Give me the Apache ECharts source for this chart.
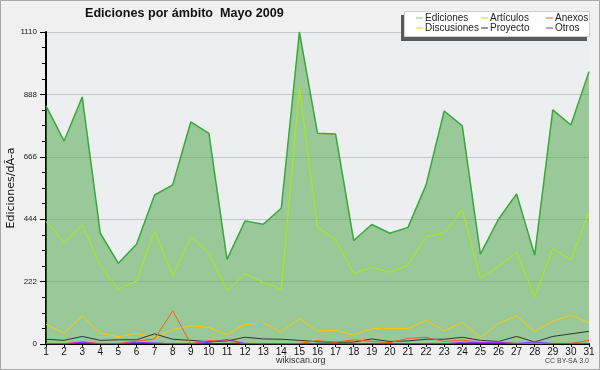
<!DOCTYPE html>
<html>
<head>
<meta charset="utf-8">
<script src="https://cdn.jsdelivr.net/npm/echarts@6/dist/echarts.min.js"></script>
<style>
html,body{margin:0;padding:0;background:#f0f0f0;}
#main{width:600px;height:370px;}
</style>
</head>
<body>
<div id="main"></div>
<script>
const days = ['1','2','3','4','5','6','7','8','9','10','11','12','13','14','15','16','17','18','19','20','21','22','23','24','25','26','27','28','29','30','31'];
const ediciones = [847,722,879,394,287,355,530,566,790,749,301,438,426,483,1110,750,747,368,425,394,415,566,829,776,320,444,534,316,833,779,969];
const articulos = [436,362,423,278,195,224,402,243,380,325,190,251,219,195,910,415,370,251,273,255,282,382,394,479,234,276,326,167,340,299,471];
const discusiones = [70,38,100,38,26,38,20,52,65,59,34,70,74,42,91,46,49,31,55,55,55,84,47,77,23,74,100,45,81,102,76];
const proyecto = [17,13,27,13,15,15,36,17,13,8,11,24,18,17,13,8,6,7,18,9,11,17,17,24,13,9,27,7,27,36,45];
const anexos = [2,1,8,2,2,10,18,118,1,12,12,1,2,1,2,12,6,15,9,5,20,24,9,14,5,7,2,2,1,2,13];
const otros = [1,1,6,1,1,6,4,1,1,6,16,2,1,1,1,1,1,1,1,1,1,1,1,6,5,6,2,7,2,2,2];
const yTicks = [0,222,444,666,888,1110];

const FONT = '"Liberation Sans", Arial, sans-serif';
const chart = echarts.init(document.getElementById('main'), null, {renderer:'canvas'});

function lineSeries(name, data, color, extra) {
  return Object.assign({
    name: name, type: 'line', data: data, symbol: 'none',
    lineStyle: {color: color, width: 1}, itemStyle: {color: color},
    emphasis: {disabled: true}, animation: false
  }, extra || {});
}

function legendCol(left, names) {
  return {
    orient: 'vertical', left: left, top: 13, padding: 0, itemGap: 0, z: 20,
    itemWidth: 7, itemHeight: 1, icon: 'rect',
    textStyle: {fontFamily: FONT, fontSize: 10, color: '#222', lineHeight: 10, padding: [0,0,0,-3]},
    data: names, selectedMode: false
  };
}

chart.setOption({
  backgroundColor: '#f0f0f0',
  animation: false,
  title: {
    text: 'Ediciones por ámbito  Mayo 2009',
    left: 85, top: 7, padding: 0,
    textStyle: {fontFamily: FONT, fontSize: 12.6, fontWeight: 'bold', color: '#111'}
  },
  legend: [
    legendCol(416, ['Ediciones','Discusiones']),
    legendCol(481, ['Artículos','Proyecto']),
    legendCol(546, ['Anexos','Otros'])
  ],
  graphic: {
    z: 1,
    elements: [
      {type:'rect', z:1, silent:true, shape:{x:0.5,y:0.5,width:599,height:369}, style:{fill:null, stroke:'#a8a8a8', lineWidth:1}},
      {type:'rect', z:2, silent:true, shape:{x:401,y:15,width:186,height:26}, style:{fill:'#5a5a5a'}},
      {type:'rect', z:3, silent:true, shape:{x:404.5,y:11.5,width:185,height:25}, style:{fill:'#ffffff', stroke:'#d0d0d0', lineWidth:1}},
      {type:'text', z:3, silent:true, left:276, top:356, style:{text:'wikiscan.org', fontFamily:FONT, fontSize:9, fill:'#333'}},
      {type:'text', z:3, silent:true, right:11, top:358, style:{text:'CC BY-SA 3.0', fontFamily:FONT, fontSize:7, fill:'#444'}}
    ]
  },
  grid: {left:46, right:11, top:32, bottom:26, show:true, backgroundColor:'#edeef0', borderWidth:0, outerBoundsMode:'none', containLabel:false},
  xAxis: {
    type:'category', data: days, boundaryGap:false,
    axisLine:{show:true, lineStyle:{color:'#000', width:2}},
    axisTick:{show:true, alignWithLabel:true, length:3, lineStyle:{color:'#000'}},
    axisLabel:{fontFamily:FONT, fontSize:10, color:'#111', margin:3, interval:0},
    splitLine:{show:false}
  },
  yAxis: {
    type:'value', min:0, max:1110, interval:222,
    name:'Ediciones/dÃ-a', nameLocation:'middle', nameGap:29, nameMoveOverlap:false,
    nameTextStyle:{fontFamily:'"DejaVu Sans", sans-serif', fontSize:11, color:'#111'},
    axisLine:{show:true, lineStyle:{color:'#000', width:2}},
    axisTick:{show:true, length:6, lineStyle:{color:'#000'}},
    minorTick:{show:true, splitNumber:4, length:4, lineStyle:{color:'#000'}},
    axisLabel:{fontFamily:FONT, fontSize:8, color:'#222', margin:9,
      formatter: function(v){ return yTicks.indexOf(v) >= 0 ? String(v) : ''; }},
    splitLine:{show:true, lineStyle:{color:'#c8c8c8', width:1}}
  },
  series: [
    lineSeries('Ediciones', ediciones, '#3aaa3a', {lineStyle:{color:'#38a838', width:1.5}, areaStyle:{color:'rgb(69,164,66)', opacity:0.5}, itemStyle:{color:'#77cc77'}}),
    lineSeries('Artículos', articulos, '#aaf000'),
    lineSeries('Discusiones', discusiones, '#ffc800'),
    lineSeries('Proyecto', proyecto, '#333333'),
    lineSeries('Anexos', anexos, '#ff5a1a'),
    lineSeries('Otros', otros, '#9030ff')
  ]
});
</script>
</body>
</html>
